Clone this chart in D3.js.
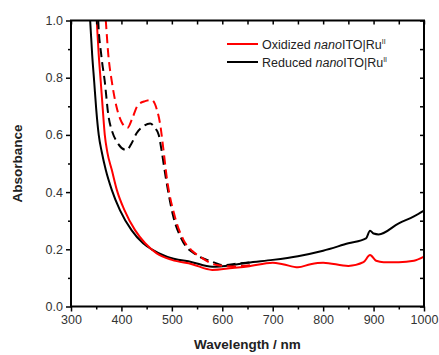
<!DOCTYPE html>
<html>
<head>
<meta charset="utf-8">
<script src="https://cdn.jsdelivr.net/npm/d3@7"></script>
<style>
  body { margin: 0; background: #fff; }
  svg { font-family: "Liberation Sans", Arial, sans-serif; }
</style>
</head>
<body>
<svg id="canvas" width="439" height="355"></svg>
<script>
(function () {
    // spectra: [wavelength nm, absorbance]
    var oxSolid = [[349,1.05],[351,1.0],[355,0.88],[359,0.786],[363,0.69],[367,0.6],[372,0.54],[381,0.477],
        [391,0.407],[406,0.337],[427,0.267],[447,0.221],[470,0.186],[500,0.163],[540,0.148],[580,0.128],
        [620,0.135],[650,0.14],[700,0.153],[720,0.148],[750,0.137],[775,0.148],[800,0.153],[850,0.142],
        [880,0.155],[893,0.18],[905,0.16],[920,0.155],[950,0.155],[980,0.16],[1000,0.174]];
    var redSolid = [[336,1.05],[338,1.0],[342,0.88],[346,0.786],[350,0.69],[355,0.6],[361,0.54],[369,0.477],
        [381,0.407],[397,0.337],[420,0.267],[443,0.221],[460,0.2],[490,0.174],[540,0.155],[580,0.139],
        [620,0.145],[650,0.153],[700,0.163],[750,0.176],[800,0.195],[850,0.221],[885,0.238],[893,0.265],
        [900,0.255],[910,0.252],[950,0.291],[980,0.315],[1000,0.335]];
    var oxDash = [[367,1.05],[369,1.0],[374,0.88],[381,0.786],[390,0.7],[400,0.646],[412,0.625],[422,0.66],
        [433,0.705],[447,0.718],[460,0.722],[470,0.69],[477,0.635],[483,0.553],[490,0.45],[506,0.314],
        [523,0.233],[540,0.195],[556,0.174],[589,0.145],[620,0.14],[660,0.145]];
    var redDash = [[353,1.05],[354,1.0],[360,0.88],[367,0.786],[374,0.67],[382,0.61],[391,0.576],[410,0.547],
        [420,0.57],[430,0.606],[445,0.632],[457,0.64],[467,0.623],[474,0.6],[480,0.541],[488,0.45],
        [503,0.314],[520,0.233],[549,0.18],[575,0.16],[602,0.145],[630,0.15],[660,0.155]];

    var xTicks = [300, 400, 500, 600, 700, 800, 900, 1000];
    var yTicks = [0.0, 0.2, 0.4, 0.6, 0.8, 1.0];

    var left = 71, right = 424, top = 20.5, bottom = 306.5;
    var svg = d3.select("#canvas");

    var x = d3.scaleLinear().domain([300, 1000]).range([left, right]);
    var y = d3.scaleLinear().domain([0, 1]).range([bottom, top]);

    svg.append("clipPath").attr("id", "clip")
        .append("rect").attr("x", left).attr("y", top)
        .attr("width", right - left).attr("height", bottom - top);

    var line = d3.line()
        .x(function (d) { return x(d[0]); })
        .y(function (d) { return y(d[1]); })
        .curve(d3.curveMonotoneX);

    var plot = svg.append("g").attr("clip-path", "url(#clip)");
    var series = [
        { d: redSolid, c: "#000", dash: null },
        { d: oxSolid, c: "#ff0000", dash: null },
        { d: redDash, c: "#000", dash: "9,5" },
        { d: oxDash, c: "#ff0000", dash: "9,5" }
    ];
    series.forEach(function (s) {
        plot.append("path").datum(s.d)
            .attr("d", line)
            .attr("fill", "none")
            .attr("stroke", s.c)
            .attr("stroke-width", 2)
            .attr("stroke-dasharray", s.dash);
    });

    // axes
    var minorX = d3.range(350, 1000, 100);
    var minorY = d3.range(0.1, 1.0, 0.2);

    function styleAxis(g) {
        g.select(".domain").remove();
        g.selectAll("line").attr("stroke", "#000").attr("stroke-width", 1.5);
        g.selectAll("text").attr("fill", "#333").style("font-size", "12.5px")
            .style("font-family", "Liberation Sans, Arial, sans-serif");
    }

    svg.append("g").attr("transform", "translate(0," + bottom + ")")
        .call(d3.axisBottom(x).tickValues(xTicks).tickSize(5).tickPadding(4)
            .tickFormat(d3.format("d")))
        .call(styleAxis);
    svg.append("g").attr("transform", "translate(0," + bottom + ")")
        .call(d3.axisBottom(x).tickValues(minorX).tickSize(3).tickFormat(""))
        .call(styleAxis);
    svg.append("g").attr("transform", "translate(" + left + ",0)")
        .call(d3.axisLeft(y).tickValues(yTicks).tickSize(5).tickPadding(3)
            .tickFormat(d3.format(".1f")))
        .call(styleAxis);
    svg.append("g").attr("transform", "translate(" + left + ",0)")
        .call(d3.axisLeft(y).tickValues(minorY).tickSize(3).tickFormat(""))
        .call(styleAxis);
    // top and right: inward ticks
    svg.append("g").attr("transform", "translate(0," + top + ")")
        .call(d3.axisBottom(x).tickValues(xTicks.concat(minorX)).tickSize(4).tickFormat(""))
        .call(styleAxis);
    svg.append("g").attr("transform", "translate(" + right + ",0)")
        .call(d3.axisLeft(y).tickValues(yTicks.concat(minorY)).tickSize(4).tickFormat(""))
        .call(styleAxis);

    svg.append("rect")
        .attr("x", left).attr("y", top)
        .attr("width", right - left).attr("height", bottom - top)
        .attr("fill", "none").attr("stroke", "#000").attr("stroke-width", 2);

    // axis titles
    svg.append("text")
        .attr("x", (left + right) / 2).attr("y", 349)
        .attr("text-anchor", "middle")
        .style("font-weight", "bold").style("font-size", "13.5px")
        .attr("fill", "#222")
        .text("Wavelength / nm");
    svg.append("text")
        .attr("transform", "translate(22," + ((top + bottom) / 2) + ") rotate(-90)")
        .attr("text-anchor", "middle")
        .style("font-weight", "bold").style("font-size", "13.5px")
        .attr("fill", "#222")
        .text("Absorbance");

    // legend
    var legend = [
        { label: "Oxidized ", c: "#ff0000", y: 44 },
        { label: "Reduced ", c: "#000", y: 62 }
    ];
    legend.forEach(function (l) {
        svg.append("line")
            .attr("x1", 227).attr("x2", 258)
            .attr("y1", l.y).attr("y2", l.y)
            .attr("stroke", l.c).attr("stroke-width", 2);
        var t = svg.append("text")
            .attr("x", 262).attr("y", l.y + 4.5)
            .attr("fill", "#222")
            .style("font-size", "12.5px");
        t.append("tspan").text(l.label);
        t.append("tspan").style("font-style", "italic").text("nano");
        t.append("tspan").text("ITO|Ru");
        t.append("tspan").attr("dy", -5).style("font-size", "7px").text("II");
    });
})();
</script>
</body>
</html>
